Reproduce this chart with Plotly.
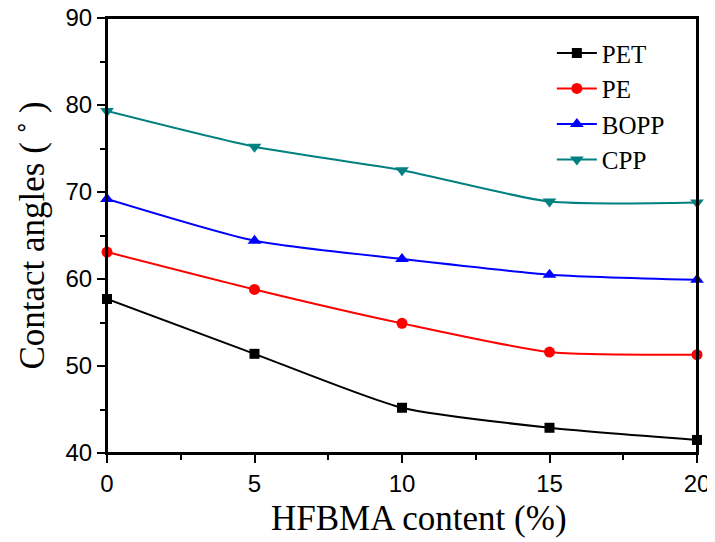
import plotly.graph_objects as go

x_vals = [0, 5, 10, 15, 20]
pet = [57.7, 51.4, 45.2, 42.9, 41.5]
pe = [63.1, 58.8, 54.9, 51.6, 51.3]
bopp = [69.2, 64.4, 62.3, 60.5, 59.9]
cpp = [79.3, 75.2, 72.5, 68.9, 68.8]

series = [
    ("PET", pet, "black", "square", 10),
    ("PE", pe, "#ff0000", "circle", 11),
    ("BOPP", bopp, "#0000ff", "triangle-up", 12),
    ("CPP", cpp, "#008080", "triangle-down", 12),
]

fig = go.Figure()
for name, ys, col, sym, sz in series:
    fig.add_trace(go.Scatter(
        x=x_vals, y=ys, name=name, mode="lines+markers",
        line=dict(color=col, width=2, shape="spline", smoothing=0.6),
        marker=dict(color=col, symbol=sym, size=sz),
        cliponaxis=False,
    ))

axis_common = dict(
    showline=True, linecolor="black", linewidth=2, mirror=True,
    ticks="outside", ticklen=8, tickwidth=2, tickcolor="black",
    showgrid=False, zeroline=False, automargin=False,
    ticklabeloverflow="allow",
    tickfont=dict(family="Liberation Sans, Arial", size=24, color="black"),
)

fig.update_xaxes(
    range=[0, 20], tickvals=[0, 5, 10, 15, 20],
    minor=dict(ticks="outside", ticklen=5, tickwidth=2, tickcolor="black", dtick=2.5, tick0=0),
    **axis_common,
)
fig.update_yaxes(
    range=[40, 90], tickvals=[40, 50, 60, 70, 80, 90],
    minor=dict(ticks="outside", ticklen=5, tickwidth=2, tickcolor="black", dtick=5, tick0=40),
    title=dict(text="Contact angles ( ˚ )", font=dict(family="Liberation Serif, Times New Roman", size=35, color="black"), standoff=10),
    **axis_common,
)

# x-axis title as an annotation (slightly right of centre, as in the reference)
fig.add_annotation(
    text="HFBMA content (%)", xref="paper", yref="paper", x=0.529, y=-0.151,
    xanchor="center", yanchor="middle", showarrow=False,
    font=dict(family="Liberation Serif, Times New Roman", size=35, color="black"),
)

# plot frame
fig.add_shape(type="rect", xref="paper", yref="paper", x0=0, y0=0, x1=1, y1=1,
              line=dict(color="black", width=2), layer="above")

# page body has an 8px margin, so the figure is drawn 8px smaller and offset
fig.update_layout(
    width=707, height=534,
    margin=dict(l=99, r=18, t=10, b=89),
    plot_bgcolor="white", paper_bgcolor="white",
    showlegend=True,
    legend=dict(
        x=0.754, y=0.972, xanchor="left", yanchor="top",
        bgcolor="rgba(0,0,0,0)", borderwidth=0,
        font=dict(family="Liberation Serif, Times New Roman", size=25, color="black"),
        itemwidth=40, tracegroupgap=0,
    ),
)

fig.write_html("out.html")
